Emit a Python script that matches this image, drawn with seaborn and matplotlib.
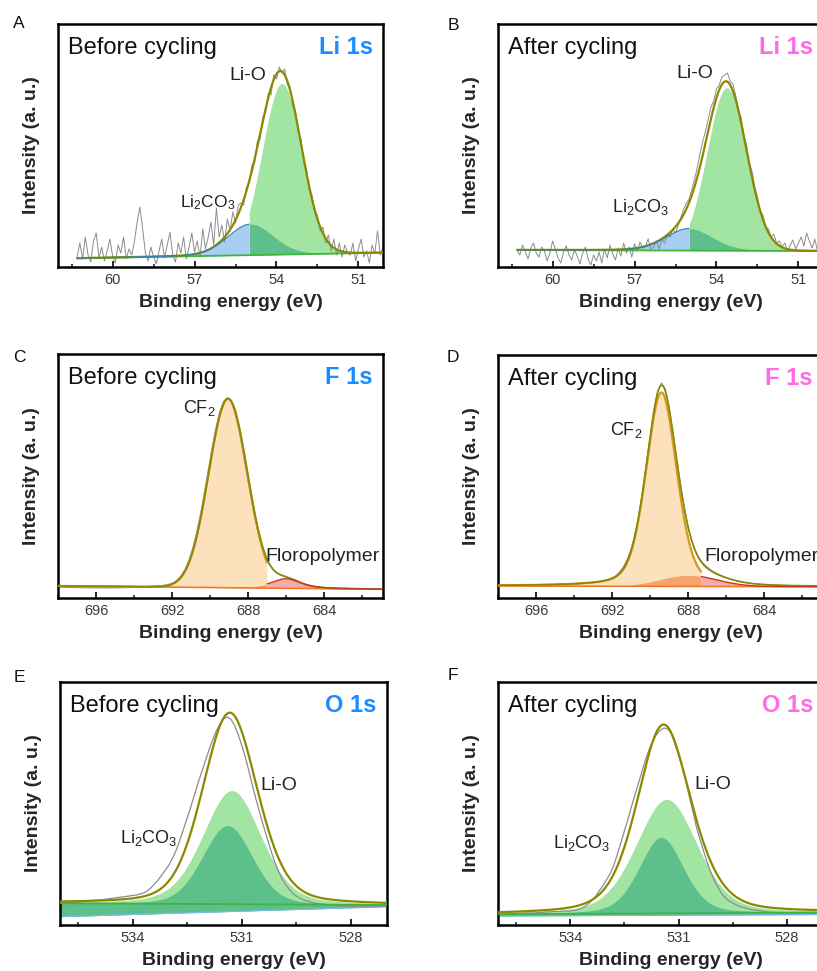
import numpy as np
import matplotlib
matplotlib.use("Agg")
import matplotlib.pyplot as plt
from matplotlib.ticker import MultipleLocator
import seaborn as sns

# ---------------- data (intensities in arbitrary units) ----------------
# Li 1s, before cycling: raw scan 61.3 -> 50.1 eV (0.1 eV step)
li_before_raw = [10, 24, 8, 30, 12, 5, 26, 34, 9, 20,
                 6, 16, 28, 11, 4, 22, 14, 30, 8, 18,
                 12, 26, 45, 60, 38, 14, 6, 20, 10, 3,
                 16, 28, 9, 22, 35, 12, 5, 24, 14, 30,
                 8, 20, 34, 15, 26, 10, 38, 18, 30, 45,
                 22, 59, 30, 42, 25, 48, 36, 55, 44, 62,
                 64, 62, 80, 84, 102, 104, 126, 128, 150, 154,
                 174, 172, 192, 188, 200, 194, 198, 182, 180, 160,
                 156, 134, 128, 104, 98, 76, 72, 54, 52, 36,
                 40, 24, 32, 16, 28, 12, 24, 10, 22, 14,
                 12, 24, 6, 18, 28, 10, 16, 4, 22, 14,
                 36, 12, 20]
li_after_raw = [17, 12, 22, 15, 8, 19, 24, 14, 10, 20,
                16, 6, 14, 26, 18, 9, 4, 15, 21, 12,
                7, 17, 11, 3, 14, 20, 8, 2, 12, 6,
                15, 4, 18, 9, 22, 13, 7, 19, 11, 24,
                14, 20, 10, 23, 16, 25, 19, 21, 28, 18,
                20, 26, 18, 28, 24, 33, 30, 38, 34, 42,
                50, 58, 64, 68, 78, 88, 100, 114, 126, 136,
                148, 160, 166, 178, 182, 190, 192, 194, 186, 183,
                172, 158, 150, 132, 122, 104, 96, 80, 70, 56,
                52, 40, 38, 30, 33, 24, 26, 20, 24, 16,
                22, 27, 18, 24, 30, 21, 34, 26, 19, 28,
                16, 22, 14]
li_scan = [61.3, 50.1]
# fitted components: [Li-O, Li2CO3]
li_before_center = [53.8, 54.95]
li_before_height = [171, 31]
li_before_fwhm = [1.7, 1.95]
li_before_eta = [0.0, 0.15]
li_before_bg = [8.7, 14.3]
li_before_cut = 55.0
li_after_center = [53.62, 55.0]
li_after_height = [163, 22]
li_after_fwhm = [1.7, 2.0]
li_after_eta = [0.0, 0.2]
li_after_bg = [17.0, 16.0]
li_after_cut = 55.0

# F 1s raw scans
f_before_scan = [697.9, 681.1]
f_before_raw = [10.8, 10.7, 10.6, 10.5, 10.4, 10.3, 10.3, 10.2, 10.2, 10.1,
                10.1, 10.1, 10.1, 10.1, 10.1, 10.2, 10.2, 10.3, 10.4, 10.5,
                10.7, 10.9, 11.2, 11.5, 11.9, 12.0, 12.2, 12.5, 13.0, 14.0,
                15.6, 18.5, 22.8, 29.2, 38.2, 50.3, 65.8, 83.7, 104.7, 126.8,
                148.8, 168.8, 184.8, 195.4, 199.5, 195.6, 185.0, 168.8, 149.0, 127.0,
                105.2, 84.6, 67.2, 52.5, 41.6, 33.8, 28.4, 25.0, 22.7, 21.5,
                20.4, 19.1, 17.8, 16.1, 14.5, 13.1, 11.9, 11.0, 10.3, 9.9,
                9.6, 9.4, 9.3, 9.2, 9.1, 9.0, 8.9, 8.9, 8.8, 8.8,
                8.8, 8.7, 8.7, 8.7, 8.7]
f_after_scan = [697.8, 681.0]
f_after_raw = [12.7, 12.7, 12.8, 12.8, 12.8, 12.9, 12.9, 13.0, 13.0, 13.1,
               13.2, 13.3, 13.3, 13.4, 13.5, 13.6, 13.8, 13.9, 14.1, 14.2,
               14.5, 14.6, 14.9, 15.2, 15.6, 16.1, 16.6, 17.3, 18.3, 19.6,
               22.0, 26.0, 31.0, 38.5, 48.5, 62.5, 81.4, 105.2, 132.4, 160.6,
               187.5, 207, 215, 209, 191, 166, 139, 113, 90.5, 71.5,
               57.2, 47, 39.5, 34.5, 31, 28, 25.8, 23.8, 22, 20.5,
               19.2, 18, 17, 16.2, 15.5, 14.9, 14.5, 14.1, 13.8, 13.5,
               13.2, 13.0, 12.9, 12.7, 12.6, 12.5, 12.4, 12.4, 12.3, 12.2,
               12.2, 12.2, 12.1, 12.1, 12.0]
f_range = [698.0, 681.0]
# fitted components: [CF2, Floropolymer]
f_before_center = [689.05, 686.0]
f_before_height = [188, 9.5]
f_before_fwhm = [2.4, 1.8]
f_before_eta = [0.0, 0.6]
f_before_bg = [12.0, 8.7]
f_before_cut = 687.0
f_after_center = [689.4, 688.0]
f_after_height = [194, 11]
f_after_fwhm = [1.9, 3.5]
f_after_eta = [0.3, 0.0]
f_after_bg = [12.0, 11.3]
f_after_cut = 687.3

# O 1s raw scans 536.0 -> 527.0 eV (0.1 eV step)
o_scan = [536.0, 527.0]
o_before_raw = [22, 22, 22.5, 22.5, 23, 23, 23.5, 23.5, 24, 24.5,
                25, 25, 25.5, 26, 26.5, 27, 27.5, 28, 28.5, 29,
                29.5, 30, 31, 32, 34, 37, 41, 45, 50, 55,
                60, 67, 75, 85, 96, 107, 118, 130, 142, 153,
                164, 175, 185, 194, 201, 206, 208, 206, 200, 191,
                180, 168, 154, 139, 125, 112, 99, 87, 75, 64,
                55, 47, 41, 36, 32, 29, 27, 25, 24, 23,
                22, 21.5, 21, 20.5, 20, 19.5, 19.5, 19, 19, 19,
                18.5, 18.5, 18.5, 18.5, 18.5, 18.5, 18.5, 19, 19, 19.5,
                19.5]
o_after_raw = [11, 11, 11, 11, 11.5, 11.5, 11.5, 12, 12, 12,
               12, 12.5, 12.5, 13, 13, 13.5, 13.5, 13.5, 14, 14,
               14, 14.5, 15, 16.5, 18.5, 21, 24.5, 28.5, 34, 39,
               45, 51, 59, 70, 82, 94, 106, 119, 131, 143,
               155, 167, 177, 185, 191, 195, 197, 196, 192, 181,
               170, 158, 144, 128, 113, 97, 85, 73, 62, 52,
               44, 37, 31, 27, 24, 22, 20, 18.5, 17.5, 16.5,
               15.5, 15, 14.5, 14, 13.5, 13, 13, 12.5, 12.5, 12.5,
               12, 12, 12, 12, 12, 12, 12, 12, 12, 12,
               12]
# fitted components: [Li-O, Li2CO3]
o_before_center = [531.27, 531.39]
o_before_height = [113.6, 78.6]
o_before_fwhm = [1.9, 1.62]
o_before_eta = [0.3, 0.2]
o_before_bg = [21.7, 20.0]
o_before_ref = [8.3, 18.3]
o_after_center = [531.33, 531.48]
o_after_height = [114, 76]
o_after_fwhm = [2.0, 1.45]
o_after_eta = [0.3, 0.3]
o_after_bg = [10.7, 12.5]
o_after_ref = [9.0, 10.5]

# ---------------- style ----------------
sns.set_theme(style="ticks")
plt.rcParams['font.family'] = ['Liberation Sans', 'DejaVu Sans']
plt.rcParams['mathtext.default'] = 'regular'

OLIVE = '#8a8a00'
GREY = '#8c8c8c'
GREEN_LINE = '#3fb43f'
LIGHT_GREEN = '#a2e4a2'
DARK_GREEN = '#5dc08a'
BLUE_FILL = '#a8cdf3'
TEAL = '#2f86b0'
PEACH = '#fde1bd'
ORANGE_FILL = '#f7a46c'
PINK_FILL = '#f8aaaa'
DARK_RED = '#c03a1c'
GOLD = '#d39a22'
ORANGE_LINE = '#f07a2a'
REF_BLUE = '#79b8ee'
TXT_BLUE = '#1a8cff'
TXT_PINK = '#ff6ae6'


def pv(x, c, h, fwhm, eta):
    u = (x - c) / (fwhm / 2.0)
    return h * ((1 - eta) * np.exp(-np.log(2) * u ** 2) + eta / (1 + u ** 2))


def line(ax, x, y, color, lw, z):
    sns.lineplot(x=x, y=y, ax=ax, color=color, linewidth=lw, estimator=None,
                 sort=False, zorder=z, legend=False)


def linear(x, ends, rng):
    return ends[0] + (x - rng[0]) * (ends[1] - ends[0]) / (rng[1] - rng[0])


def draw_li(ax, raw, cen, hgt, fw, eta, bg, cut):
    xr = np.round(np.linspace(li_scan[0], li_scan[1], len(raw)), 2)
    x = np.linspace(li_scan[0], li_scan[1], 900)
    base = linear(x, bg, li_scan)
    lio = pv(x, cen[0], hgt[0], fw[0], eta[0])
    carb = pv(x, cen[1], hgt[1], fw[1], eta[1])
    env = base + lio + carb
    ax.fill_between(x, base, base + lio, where=x <= cut, color=LIGHT_GREEN, lw=0, zorder=1)
    ax.fill_between(x, base, base + carb, where=x >= cut, color=BLUE_FILL, lw=0, zorder=1.1)
    ax.fill_between(x, base, base + carb, where=x <= cut, color=DARK_GREEN, lw=0, zorder=1.2)
    line(ax, xr, raw, GREY, 0.7, 2)
    line(ax, x, base, GREEN_LINE, 1.3, 3)
    line(ax, x, env, OLIVE, 1.6, 4)
    m = x >= cut
    line(ax, x[m], (base + carb)[m], TEAL, 0.9, 5)


def draw_f(ax, raw, scan, cen, hgt, fw, eta, bg, cut):
    xr = np.round(np.linspace(scan[0], scan[1], len(raw)), 2)
    x = np.linspace(f_range[0], f_range[1], 900)
    base = linear(x, bg, f_range)
    cf2 = pv(x, cen[0], hgt[0], fw[0], eta[0])
    flo = pv(x, cen[1], hgt[1], fw[1], eta[1])
    env = base + cf2 + flo
    ax.fill_between(x, base, base + cf2, where=x >= cut, color=PEACH, lw=0, zorder=1)
    ax.fill_between(x, base, base + flo, where=x >= cut, color=ORANGE_FILL, lw=0, zorder=1.1)
    ax.fill_between(x, base, base + flo, where=x <= cut, color=PINK_FILL, lw=0, zorder=1.1)
    line(ax, xr, raw, GREY, 0.8, 2)
    line(ax, x, base, ORANGE_LINE, 1.2, 3)
    m = x >= cut
    line(ax, x[m], (base + cf2)[m], GOLD, 1.6, 3.5)
    line(ax, x, env, OLIVE, 1.2, 4)
    m2 = x <= cut
    line(ax, x[m2], (base + flo)[m2], DARK_RED, 1.0, 5)


def draw_o(ax, raw, cen, hgt, fw, eta, bg, ref):
    xr = np.round(np.linspace(o_scan[0], o_scan[1], len(raw)), 2)
    x = np.linspace(o_scan[0], o_scan[1], 900)
    base = linear(x, bg, o_scan)
    low = linear(x, ref, o_scan)
    lio = pv(x, cen[0], hgt[0], fw[0], eta[0])
    carb = pv(x, cen[1], hgt[1], fw[1], eta[1])
    env = base + lio + carb
    ax.fill_between(x, low, base + lio, color=LIGHT_GREEN, lw=0, zorder=1)
    ax.fill_between(x, low, base + carb, color=DARK_GREEN, lw=0, zorder=1.1)
    line(ax, x, low, REF_BLUE, 0.8, 1.5)
    line(ax, xr, raw, GREY, 0.9, 2)
    line(ax, x, base, GREEN_LINE, 1.3, 3)
    line(ax, x, env, OLIVE, 1.6, 4)


fig = plt.figure(figsize=(8.17, 9.71), dpi=100)
W, H = 817.0, 971.0


def add_ax(l, t, w, h):
    return fig.add_axes([l / W, 1 - (t + h) / H, w / W, h / H])


def style(ax, xlim, majors, minor):
    ax.set_xlim(*xlim)
    ax.set_ylim(0, 243)
    ax.set_xticks(majors)
    ax.set_xticklabels([str(m) for m in majors])
    ax.xaxis.set_minor_locator(MultipleLocator(minor))
    ax.set_yticks([])
    ax.tick_params(axis='x', which='major', direction='in', length=4, width=1.4,
                   labelsize=10.5, labelcolor='#3a3a3a', pad=4.5, top=False)
    ax.tick_params(axis='x', which='minor', direction='in', length=2.5, width=1.2, top=False)
    for s in ax.spines.values():
        s.set_visible(True)
        s.set_linewidth(1.8)
        s.set_color('black')
    ax.set_xlabel('Binding energy (eV)', fontsize=14, fontweight='bold', labelpad=5)
    ax.xaxis.label.set_x(0.531)
    ax.set_ylabel('Intensity (a. u.)', fontsize=14, fontweight='bold', labelpad=13)


def titles(ax, left, core, color):
    ax.text(0.031, 0.877, left, transform=ax.transAxes, fontsize=17, ha='left',
            va='baseline', color='#111111')
    ax.text(0.969, 0.877, core, transform=ax.transAxes, fontsize=17, ha='right',
            va='baseline', color=color, fontweight='bold')


axA = add_ax(58, 24, 325, 243)
axB = add_ax(498, 24, 325, 243)
axC = add_ax(58, 354, 325, 244)
axD = add_ax(498, 355, 325, 243)
axE = add_ax(60, 682, 327, 243)
axF = add_ax(498, 682, 325, 243)

draw_li(axA, li_before_raw, li_before_center, li_before_height, li_before_fwhm,
        li_before_eta, li_before_bg, li_before_cut)
draw_li(axB, li_after_raw, li_after_center, li_after_height, li_after_fwhm,
        li_after_eta, li_after_bg, li_after_cut)
draw_f(axC, f_before_raw, f_before_scan, f_before_center, f_before_height, f_before_fwhm,
       f_before_eta, f_before_bg, f_before_cut)
draw_f(axD, f_after_raw, f_after_scan, f_after_center, f_after_height, f_after_fwhm,
       f_after_eta, f_after_bg, f_after_cut)
draw_o(axE, o_before_raw, o_before_center, o_before_height, o_before_fwhm,
       o_before_eta, o_before_bg, o_before_ref)
draw_o(axF, o_after_raw, o_after_center, o_after_height, o_after_fwhm,
       o_after_eta, o_after_bg, o_after_ref)

for ax in (axA, axB):
    style(ax, (62.0, 50.1), [60, 57, 54, 51], 1.5)
for ax in (axC, axD):
    style(ax, (698.0, 680.9), [696, 692, 688, 684], 2)
for ax in (axE, axF):
    style(ax, (536.0, 527.0), [534, 531, 528], 1.5)

titles(axA, 'Before cycling', 'Li 1s', TXT_BLUE)
titles(axB, 'After cycling', 'Li 1s', TXT_PINK)
titles(axC, 'Before cycling', 'F 1s', TXT_BLUE)
titles(axD, 'After cycling', 'F 1s', TXT_PINK)
titles(axE, 'Before cycling', 'O 1s', TXT_BLUE)
titles(axF, 'After cycling', 'O 1s', TXT_PINK)

ann = dict(fontsize=14, color='#222222', ha='left', va='baseline', zorder=10)
sub = dict(fontsize=13, color='#222222', ha='left', va='baseline', zorder=10)
axA.text(55.72, 187, 'Li-O', **ann)
axA.text(57.55, 60, 'Li$_2$CO$_3$', fontsize=12.5, color='#222222', ha='left',
         va='baseline', zorder=10)
axB.text(55.48, 189, 'Li-O', **ann)
axB.text(57.83, 55, 'Li$_2$CO$_3$', **sub)
axC.text(691.44, 184, 'CF$_2$', **sub)
axC.text(687.1, 37, 'Floropolymer', **ann)
axD.text(692.09, 163, 'CF$_2$', **sub)
axD.text(687.15, 37, 'Floropolymer', **ann)
axE.text(530.49, 135, 'Li-O', **ann)
axE.text(534.36, 82, 'Li$_2$CO$_3$', **sub)
axF.text(530.56, 136, 'Li-O', **ann)
axF.text(534.49, 77, 'Li$_2$CO$_3$', **sub)

for lab, (px, py) in zip('ABCDEF', [(19, 24), (453, 25), (19, 357), (453, 357),
                                     (19, 677), (453, 675)]):
    fig.text(px / W, 1 - py / H, lab, fontsize=12.5, ha='center', va='center', color='#111111')

fig.savefig('out.png', dpi=100)
